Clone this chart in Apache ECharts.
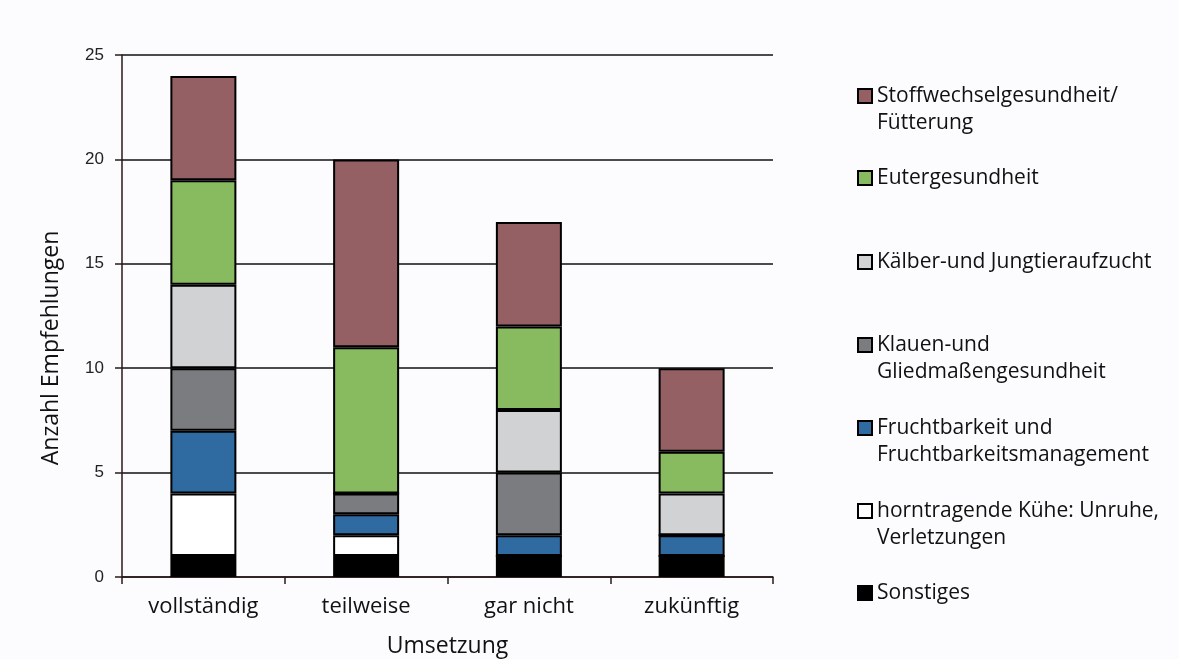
<!DOCTYPE html>
<html><head><meta charset="utf-8">
<script src="https://cdn.jsdelivr.net/npm/echarts@6/dist/echarts.min.js"></script>
<style>html,body{margin:0;padding:0;background:#fcfcfe}#c{width:1179px;height:659px}</style>
</head><body><div id="c"></div>
<script>
const categories = ['vollständig', 'teilweise', 'gar nicht', 'zukünftig'];
const yTicks = [0, 5, 10, 15, 20, 25];
const sonstiges = [1, 1, 1, 1];
const horntragende = [3, 1, 0, 0];
const fruchtbarkeit = [3, 1, 1, 1];
const klauen = [3, 1, 3, 0];
const kaelber = [4, 0, 3, 2];
const euter = [5, 7, 4, 2];
const stoffwechsel = [5, 9, 5, 4];

const seriesDefs = [
  {name: 'Sonstiges', data: sonstiges, color: '#000000', label: 'Sonstiges'},
  {name: 'horntragende', data: horntragende, color: '#ffffff', label: 'horntragende Kühe: Unruhe,\nVerletzungen'},
  {name: 'Fruchtbarkeit', data: fruchtbarkeit, color: '#2f6aa1', label: 'Fruchtbarkeit und\nFruchtbarkeitsmanagement'},
  {name: 'Klauen', data: klauen, color: '#7b7c80', label: 'Klauen-und\nGliedmaßengesundheit'},
  {name: 'Kaelber', data: kaelber, color: '#d1d2d4', label: 'Kälber-und Jungtieraufzucht'},
  {name: 'Euter', data: euter, color: '#88ba5f', label: 'Eutergesundheit'},
  {name: 'Stoffwechsel', data: stoffwechsel, color: '#956064', label: 'Stoffwechselgesundheit/\nFütterung'}
];

const font = 'Open Sans';
const LH = 27;
const legendCenters = {Stoffwechsel: 96, Euter: 178, Kaelber: 262, Klauen: 345, Fruchtbarkeit: 428, horntragende: 511, Sonstiges: 593};
const legends = seriesDefs.map(s => {
  const two = s.label.indexOf('\n') >= 0;
  const c = legendCenters[s.name];
  const txt = two ? '\u00a0\n' + s.label : s.label;
  return {
    data: [s.name], orient: 'vertical', left: 857,
    top: two ? c - 1.5 * LH : c - LH / 2,
    padding: 0, itemWidth: 14, itemHeight: 14, itemGap: 0,
    icon: 'rect',
    itemStyle: {borderColor: '#000', borderWidth: 2},
    formatter: () => txt,
    textStyle: {fontFamily: font, fontSize: 21, color: '#111', lineHeight: LH},
    selectedMode: false
  };
});

const chart = echarts.init(document.getElementById('c'));
chart.setOption({
  backgroundColor: '#fcfcfe',
  animation: false,
  legend: legends,
  grid: {left: 122, right: 406, top: 55, bottom: 82, containLabel: false, outerBoundsMode: 'none'},
  xAxis: {
    type: 'category', data: categories,
    name: 'Umsetzung', nameLocation: 'middle', nameGap: 58,
    nameTextStyle: {fontFamily: font, fontSize: 23, color: '#111'},
    axisLine: {lineStyle: {color: '#2a1a1a', width: 1.5}},
    axisTick: {show: true, length: 7, lineStyle: {color: '#2a1a1a', width: 1.5}},
    axisLabel: {fontFamily: font, fontSize: 22, color: '#111', margin: 19}
  },
  yAxis: {
    type: 'value', min: yTicks[0], max: yTicks[yTicks.length - 1], interval: 5,
    name: 'Anzahl Empfehlungen', nameLocation: 'middle', nameGap: 59, nameRotate: 90,
    nameTextStyle: {fontFamily: font, fontSize: 23, color: '#111', padding: [0, 64, 0, 0]},
    axisLine: {show: true, lineStyle: {color: '#2a1a1a', width: 1.5}},
    axisTick: {show: true, length: 7, lineStyle: {color: '#2a1a1a', width: 1.5}},
    axisLabel: {fontFamily: 'Liberation Sans', fontSize: 17, color: '#222', margin: 18},
    splitLine: {lineStyle: {color: '#111', width: 1.5}}
  },
  series: seriesDefs.map(s => ({
    name: s.name, type: 'bar', stack: 'total', data: s.data, barWidth: 66,
    itemStyle: {color: s.color, borderColor: '#000', borderWidth: 2}
  }))
});
</script></body></html>
